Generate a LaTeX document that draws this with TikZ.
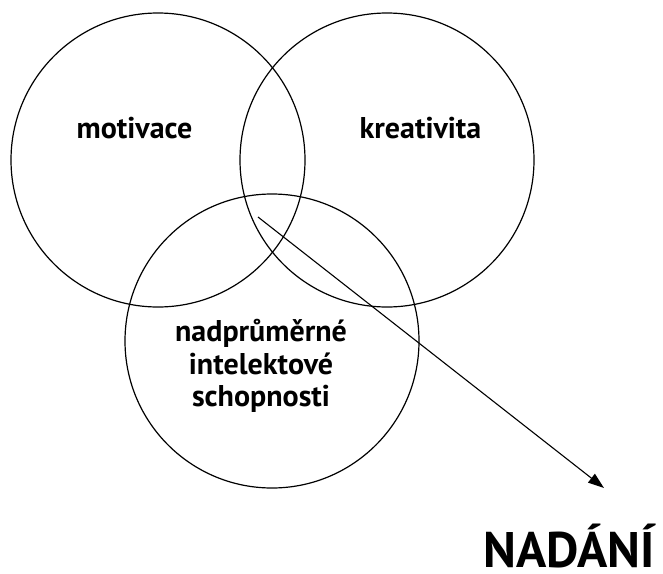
\documentclass[tikz,border=0pt]{standalone}
\usepackage{fontspec}
\setmainfont{PT Sans}
\usetikzlibrary{arrows.meta}
\tikzset{
    ring/.style = {circle, line width=1.2pt, draw=black, minimum size=294pt, inner sep=0pt},
    label/.style = {align=center, font=\bfseries\fontsize{30}{32.5}\selectfont},
    biglabel/.style = {inner sep=0pt, text depth=0pt, font=\bfseries\fontsize{50}{54}\selectfont},
    edgen/.style = {-{Triangle[length=16pt,width=11pt]}, line width=1.1pt}
}

\begin{document}
\begin{tikzpicture}[x=1pt,y=1pt]
\useasboundingbox (0,0) rectangle (663,-573);
\node[ring] at (158,-160) (mot) {};
\node[ring] at (387,-160) (kre) {};
\node[ring] at (272,-341) (int) {};
%
\node[label, anchor=base] at (134.5,-138) (tmot) {motivace};
\node[label, anchor=base] at (420.5,-138) (tkre) {kreativita};
\node[label] at (261,-366) (tint) {nadprůměrné\\intelektové\\schopnosti};
\node[biglabel, anchor=base] at (569,-567) (nad) {NADÁNÍ};
%
\coordinate (start) at (258,-217);
\coordinate (tip) at (604,-488);
\draw[edgen] (start) -- (tip);
\end{tikzpicture}
\end{document}
